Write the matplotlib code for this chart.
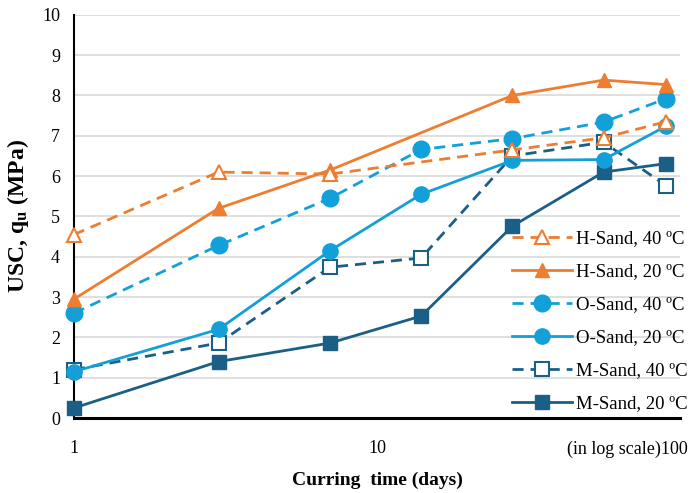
import numpy as np
import matplotlib.pyplot as plt
import matplotlib.transforms as mtransforms
from matplotlib.ticker import FixedLocator, NullLocator

plt.rcParams['font.family'] = ['Liberation Serif', 'DejaVu Serif']
plt.rcParams['mathtext.fontset'] = 'stix'

# curing time (days)
days_all = [1, 3, 7, 14, 28, 56, 90]
days_h = [1, 3, 7, 28, 56, 90]

h_sand_40 = [4.55, 6.1, 6.05, 6.65, 6.95, 7.35]
h_sand_20 = [2.95, 5.2, 6.15, 8.0, 8.38, 8.27]
o_sand_40 = [2.6, 4.28, 5.45, 6.66, 6.93, 7.34, 7.92]
o_sand_20 = [1.15, 2.2, 4.15, 5.55, 6.39, 6.41, 7.24]
m_sand_40 = [1.2, 1.86, 3.74, 3.97, 6.5, 6.84, 5.76]
m_sand_20 = [0.25, 1.4, 1.86, 2.53, 4.76, 6.1, 6.31]

orange = '#ED7D31'
light = '#13A0D8'
dark = '#1A5F86'

fig = plt.figure(figsize=(6.91, 4.93), dpi=100)
ax = fig.add_axes([0.107, 0.152, 0.877, 0.818])

lw = 2.0
dash = (4, 2.5)
ax.plot(days_all, m_sand_20, color=dark, lw=lw, marker='s', ms=10,
        label='M-Sand, 20 ºC', zorder=3, clip_on=False)
ax.plot(days_all, m_sand_40, color=dark, lw=lw, ls='--', dashes=dash, marker='s', ms=10,
        mfc='white', mec=dark, mew=1.5, label='M-Sand, 40 ºC', zorder=3, clip_on=False)
ax.plot(days_all, o_sand_20, color=light, lw=lw, marker='o', ms=11,
        label='O-Sand, 20 ºC', zorder=3, clip_on=False)
ax.plot(days_all, o_sand_40, color=light, lw=lw, ls='--', dashes=dash, marker='o', ms=12,
        label='O-Sand, 40 ºC', zorder=3, clip_on=False)
ax.plot(days_h, h_sand_20, color=orange, lw=lw, marker='^', ms=10,
        label='H-Sand, 20 ºC', zorder=3, clip_on=False)
ax.plot(days_h, h_sand_40, color=orange, lw=lw, ls='--', dashes=dash, marker='^', ms=10,
        mfc='white', mec=orange, mew=1.5, label='H-Sand, 40 ºC', zorder=3, clip_on=False)

ax.set_xscale('log')
ax.set_xlim(1, 100)
ax.set_ylim(0, 10)
ax.xaxis.set_major_locator(FixedLocator([1, 10, 100]))
ax.xaxis.set_minor_locator(NullLocator())
ax.set_xticklabels(['1', '10', '(in log scale)100'])
ax.set_yticks(range(0, 11))
ax.tick_params(length=0, labelsize=13)
ax.tick_params(axis='x', pad=16)
ax.tick_params(axis='y', pad=10)
last = ax.get_xticklabels()[2]
last.set_horizontalalignment('right')
last.set_transform(last.get_transform() + mtransforms.ScaledTranslation(0.08, 0, fig.dpi_scale_trans))

ax.grid(axis='y', color='#D9D9D9', lw=1.2)
ax.set_axisbelow(True)
for s in ['top', 'right']:
    ax.spines[s].set_visible(False)
ax.spines['left'].set_linewidth(1.5)
ax.spines['bottom'].set_linewidth(2.2)

ax.set_xlabel('Curring  time (days)', fontsize=14, fontweight='bold', labelpad=10)
ax.set_ylabel(r'USC, q$_{\mathbf{u}}$ (MPa)', fontsize=17, fontweight='bold', labelpad=8)

handles, labels = ax.get_legend_handles_labels()
leg = ax.legend(handles[::-1], labels[::-1], loc='upper left',
                bbox_to_anchor=(512 / 691, 1 - 230 / 493), bbox_transform=fig.transFigure,
                frameon=False, fontsize=13.5, handlelength=3.2, handletextpad=0.2,
                labelspacing=0.85, borderaxespad=0, borderpad=0)

fig.savefig('out.png', dpi=100)
